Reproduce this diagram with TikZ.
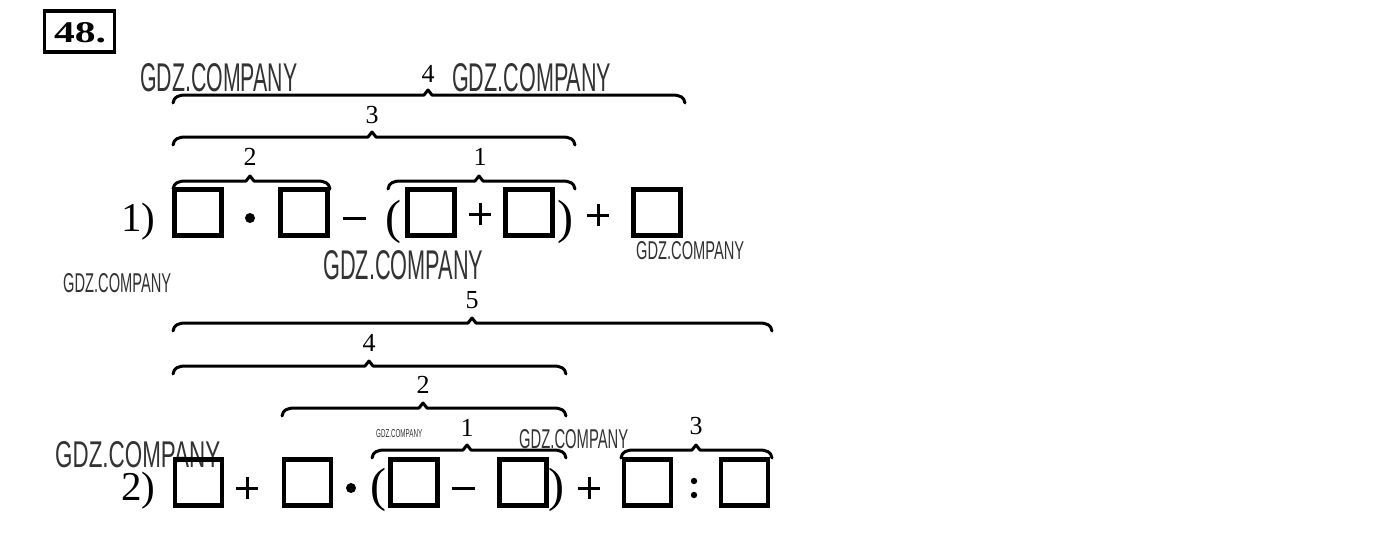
\documentclass[tikz,border=0pt]{standalone}
\usepackage{fontspec}
\setmainfont{Liberation Serif}
\setsansfont{Liberation Sans}
\usepackage{graphicx}
\newcommand\wmark[2]{\resizebox{#1pt}{#2pt}{\sffamily GDZ.COMPANY}}
\newcommand\ubrc[4]{%
  \draw[brc] (#1,#4+8) .. controls (#1+1,#4+2) and (#1+5,#4) .. (#1+13,#4)
    -- (#3-4,#4) -- (#3,#4-5) -- (#3+4,#4) -- (#2-13,#4)
    .. controls (#2-5,#4) and (#2-1,#4+2) .. (#2,#4+8);}
\newcommand\plusop[2]{\draw[opl] (#1-11,#2) -- (#1+11,#2) (#1,#2-11) -- (#1,#2+11);}
\newcommand\minusop[2]{\draw[opl] (#1-11.5,#2) -- (#1+11.5,#2);}
\begin{document}
\begin{tikzpicture}[x=1pt,y=-1pt,
  wm/.style={inner sep=0pt,anchor=north west,text=black!80},
  sq/.style={draw,line width=4.5pt,inner sep=0pt,minimum width=47pt,minimum height=46pt},
  brc/.style={line width=3pt,line cap=round,line join=round},
  opl/.style={line width=3pt},
  lbl/.style={inner sep=0pt,font=\fontsize{26}{28}\selectfont},
  par/.style={inner sep=0pt,font=\fontsize{48}{50}\selectfont},
  num/.style={inner sep=0pt,anchor=base west,font=\fontsize{41}{44}\selectfont},
  dotc/.style={fill=black,draw=none}]
\useasboundingbox (0,0) rectangle (1400,542);
\fill[white] (0,0) rectangle (1400,542);

% title
\draw[line width=3.5pt] (44.5,11) rectangle (114.5,52);
\node[inner sep=0pt] (title) at (80,32.5) {\resizebox{52pt}{20pt}{\bfseries 48.}};

% watermarks
\node[wm] (w1) at (140,63) {\wmark{157}{28}};
\node[wm] (w2) at (452,63) {\wmark{159}{28}};
\node[wm] (w3) at (323,250) {\wmark{160}{29}};
\node[wm] (w4) at (636,241) {\wmark{108}{18}};
\node[wm] (w5) at (63,273) {\wmark{108}{19}};
\node[wm] (w6) at (55,441) {\wmark{165}{26}};
\node[wm] (w7) at (376,429) {\wmark{46}{8}};
\node[wm] (w8) at (519,429) {\wmark{109}{19}};

% ---------- row 1 ----------
\node[num] (n1) at (121,231) {1)};
\node[sq] (a1) at (198,212.5) {};
\fill[dotc] (250,218) circle (5pt);
\node[sq] (a2) at (304,212.5) {};
\minusop{354}{218}
\node[par] (lp1) at (393,222) {(};
\node[sq] (a3) at (431,212.5) {};
\plusop{480}{214}
\node[sq] (a4) at (529,212.5) {};
\node[par] (rp1) at (565,222) {)};
\plusop{598}{215}
\node[sq] (a5) at (657,212.5) {};

\ubrc{173}{330}{250}{181}
\ubrc{388}{575}{479}{181}
\ubrc{173}{575}{372}{137}
\ubrc{173}{685}{428}{95}
\node[lbl] (l12) at (250,157) {2};
\node[lbl] (l11) at (480,157) {1};
\node[lbl] (l13) at (372,115) {3};
\node[lbl] (l14) at (428,74) {4};

% ---------- row 2 ----------
\node[num] (n2) at (121,500) {2)};
\node[sq] (b1) at (198.5,482.5) {};
\plusop{247}{488}
\node[sq] (b2) at (307.5,482.5) {};
\fill[dotc] (351,488) circle (5pt);
\node[par] (lp2) at (378,490) {(};
\node[sq] (b3) at (414,482.5) {};
\minusop{463}{488}
\node[sq] (b4) at (523,482.5) {};
\node[par] (rp2) at (556,490) {)};
\plusop{589}{488}
\fill[dotc] (694,481) circle (3.2pt);
\fill[dotc] (694,495) circle (3.2pt);
\node[sq] (b5) at (647.5,482.5) {};
\node[sq] (b6) at (744.5,482.5) {};

\ubrc{372}{566}{467}{450}
\ubrc{621}{772}{696}{450}
\ubrc{282}{566}{423}{408}
\ubrc{173}{566}{369}{366}
\ubrc{173}{772}{472}{323}
\node[lbl] (l21) at (467,428) {1};
\node[lbl] (l23) at (696,426) {3};
\node[lbl] (l22) at (423,385) {2};
\node[lbl] (l24) at (369,343) {4};
\node[lbl] (l25) at (472,300) {5};
\end{tikzpicture}
\end{document}
